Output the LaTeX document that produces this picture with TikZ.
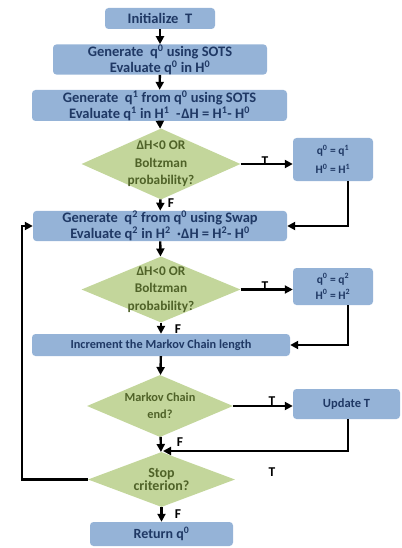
\documentclass[tikz,border=0pt]{standalone}
\usepackage{fontspec}
\setmainfont{Carlito}
\usetikzlibrary{shapes.geometric,arrows.meta}
\definecolor{boxfill}{HTML}{95B3D7}
\definecolor{diafill}{HTML}{C3D69B}
\definecolor{boxtext}{HTML}{1F3864}
\definecolor{diatext}{HTML}{4F6228}
\newcommand{\sps}[1]{\textsuperscript{#1}}
\begin{document}
\begin{tikzpicture}[x=1pt,y=-1pt,
  proc/.style={fill=boxfill, rounded corners=3.5pt, inner sep=0pt, text=boxtext, align=center},
  big/.style={font=\bfseries\fontsize{14.5}{16}\selectfont},
  dia/.style={diamond, fill=diafill, inner sep=0pt},
  dtext/.style={text=diatext, inner sep=0pt, align=center, font=\bfseries\fontsize{13.3}{17.5}\selectfont},
  arr/.style={line width=2.4pt, -{Triangle[length=8pt,width=8pt]}},
  tf/.style={font=\bfseries\fontsize{13.5}{13.5}\selectfont, text=black, inner sep=0pt}
]
\useasboundingbox (0,0) rectangle (401,548);

% process boxes
\node[proc, big, minimum width=110, minimum height=21] (init) at (160,18.5) {Initialize\ \ T};
\node[proc, big, minimum width=214, minimum height=29] (gen0) at (160,59.5)
  {Generate\ \ q\sps{0} using SOTS\\Evaluate q\sps{0} in H\sps{0}};
\node[proc, big, minimum width=255, minimum height=31] (gen1) at (159.5,105.5)
  {Generate\ \ q\sps{1} from q\sps{0} using SOTS\\Evaluate q\sps{1} in H\sps{1}\ \ - $\!$ΔH = H\sps{1}- H\sps{0}};

% first acceptance test
\node[dia, minimum width=159, minimum height=71,
  label={[dtext]center:{ΔH<0 OR\\Boltzman\\probability?}}] (d1) at (161,164) {};
\node[proc, minimum width=80, minimum height=43, font=\bfseries\fontsize{11.5}{19}\selectfont] (acc1) at (333,159.5)
  {q\sps{0} = q\sps{1}\\H\sps{0} = H\sps{1}};

\node[proc, big, minimum width=254, minimum height=30] (gen2) at (160,226)
  {Generate\ \ q\sps{2} from q\sps{0} using Swap\\Evaluate q\sps{2} in H\sps{2}\ \ \textperiodcentered ΔH = H\sps{2}- H\sps{0}};

% second acceptance test
\node[dia, minimum width=159, minimum height=66,
  label={[dtext]center:{ΔH<0 OR\\Boltzman\\probability?}}] (d2) at (161,289.5) {};
\node[proc, minimum width=80, minimum height=37, font=\bfseries\fontsize{11.5}{16}\selectfont] (acc2) at (333,286.5)
  {q\sps{0} = q\sps{2}\\H\sps{0} = H\sps{2}};

\node[proc, minimum width=258, minimum height=22, font=\bfseries\fontsize{12.3}{14}\selectfont] (incr) at (161,345)
  {Increment the Markov Chain length};

% chain end and stop tests
\node[dia, minimum width=146, minimum height=62,
  label={[dtext, font=\bfseries\fontsize{12.3}{17}\selectfont]center:{Markov Chain\\end?}}] (d3) at (160,406) {};
\node[proc, minimum width=107, minimum height=30, font=\bfseries\fontsize{12.5}{14}\selectfont] (upd) at (346.5,404) {Update T};

\node[dia, minimum width=147, minimum height=55,
  label={[dtext, font=\bfseries\fontsize{14}{11}\selectfont]center:{Stop\\criterion?}}] (d4) at (161.5,479.5) {};
\node[proc, minimum width=143, minimum height=24, font=\bfseries\fontsize{14}{15}\selectfont] (ret) at (161.5,534) {Return q\sps{0}};

% main flow
\draw[arr] (init) -- (gen0);
\draw[arr] (gen0) -- (gen1);
\draw[arr] (gen1) -- (d1);
\draw[arr] (d1) -- (gen2);
\draw[arr] (gen2) -- (d2);
\draw[arr] (d2) -- (incr);
\draw[arr] (incr) -- (d3);
\draw[arr] (d3) -- (d4);
\draw[arr] (d4) -- (ret);

% accepted moves
\draw[arr] (d1.east) -- (d1.east -| acc1.west);
\draw[arr] ([xshift=15pt]acc1.south) |- (gen2.east);
\draw[arr] (d2.east) -- (d2.east -| acc2.west);
\draw[arr] ([xshift=15pt]acc2.south) |- (incr.east);
\draw[arr] (d3.east) -- (d3.east -| upd.west);
\coordinate (join) at (163,451);
\draw[arr] ([xshift=1.5pt]upd.south) |- (join);

% loop back to the swap step
\coordinate (loop) at (22,0);
\draw[arr] (d4.west) -- (d4.west -| loop) -- (loop |- gen2.west) -- (gen2.west);

% branch labels
\node[tf] (t1) at (265,161) {T};
\node[tf] (t2) at (265,286) {T};
\node[tf] (t3) at (272,401.5) {T};
\node[tf] (t4) at (272,472) {T};
\node[tf] (f1) at (171,203) {F};
\node[tf] (f2) at (178,329) {F};
\node[tf] (f3) at (180,442) {F};
\node[tf] (f4) at (178,514) {F};
\end{tikzpicture}
\end{document}
